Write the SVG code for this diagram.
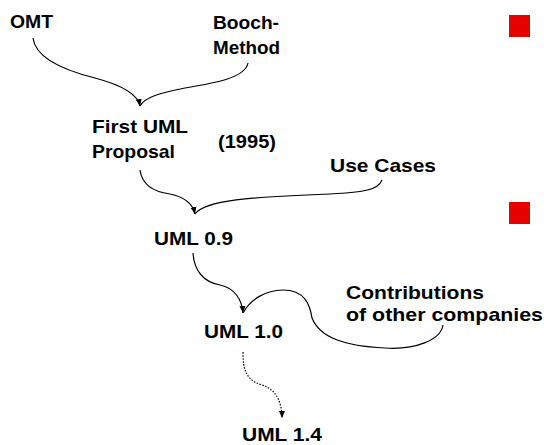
<svg xmlns="http://www.w3.org/2000/svg" width="544" height="445" viewBox="0 0 544 445">
<defs>
<style>
.t{font-family:"Liberation Sans",Arial,sans-serif;font-weight:bold;font-size:19px;fill:#000}
.c{fill:none;stroke:#000;stroke-width:1.2}
.d{fill:none;stroke:#000;stroke-width:1.2;stroke-dasharray:1.5 1.5}
.b{fill:#e60000}
</style>
<marker id="ah" markerWidth="8" markerHeight="8" viewBox="0 0 8 8" refX="7" refY="4" orient="auto" markerUnits="userSpaceOnUse">
<path d="M0,1 L7,4 L0,7 Z" fill="#000"/>
</marker>
</defs>
<rect class="b" x="509" y="15" width="21" height="22"/>
<rect class="b" x="509" y="202" width="21" height="22"/>
<g id="omt"><text class="t" x="10" y="28" textLength="43" lengthAdjust="spacingAndGlyphs">OMT</text></g>
<g id="booch"><text class="t" x="213" y="29" textLength="66" lengthAdjust="spacingAndGlyphs">Booch-</text><text class="t" x="213" y="54" textLength="67" lengthAdjust="spacingAndGlyphs">Method</text></g>
<g id="first"><text class="t" x="92" y="133" textLength="96" lengthAdjust="spacingAndGlyphs">First UML</text><text class="t" x="92" y="158" textLength="83" lengthAdjust="spacingAndGlyphs">Proposal</text></g>
<g id="year"><text class="t" x="218" y="148" textLength="58" lengthAdjust="spacingAndGlyphs">(1995)</text></g>
<g id="usecases"><text class="t" x="330" y="172" textLength="106" lengthAdjust="spacingAndGlyphs">Use Cases</text></g>
<g id="uml09"><text class="t" x="154" y="245" textLength="79" lengthAdjust="spacingAndGlyphs">UML 0.9</text></g>
<g id="contrib"><text class="t" x="346" y="299" textLength="138" lengthAdjust="spacingAndGlyphs">Contributions</text><text class="t" x="346" y="321" textLength="197" lengthAdjust="spacingAndGlyphs">of other companies</text></g>
<g id="uml10"><text class="t" x="204" y="338" textLength="79" lengthAdjust="spacingAndGlyphs">UML 1.0</text></g>
<g id="uml14"><text class="t" x="242" y="441" textLength="80" lengthAdjust="spacingAndGlyphs">UML 1.4</text></g>
<g id="connectors">
<path class="c" d="M33,38 C35,55 55,68 95,78 C125,86 138,95 140,106" marker-end="url(#ah)"/>
<path class="c" d="M248,63 C245,78 215,83 185,88 C160,93 145,97 140,106"/>
<path class="c" d="M140,170 C142,185 155,192 170,194 C185,197 193,205 195,214" marker-end="url(#ah)"/>
<path class="c" d="M382,180 C378,190 365,192 330,194 C250,197 205,200 195,214"/>
<path class="c" d="M193,253 C194,270 203,282 220,285 C235,288 242,300 243,313" marker-end="url(#ah)"/>
<path class="c" d="M443,325 C441,340 415,350 385,348 C345,346 320,338 312,318 C310,305 305,290 283,290 C265,290 250,300 243,313"/>
<path class="d" d="M243,352 C243,370 246,380 262,385 C278,390 282,405 282,418" marker-end="url(#ah)"/>
</g>
</svg>
